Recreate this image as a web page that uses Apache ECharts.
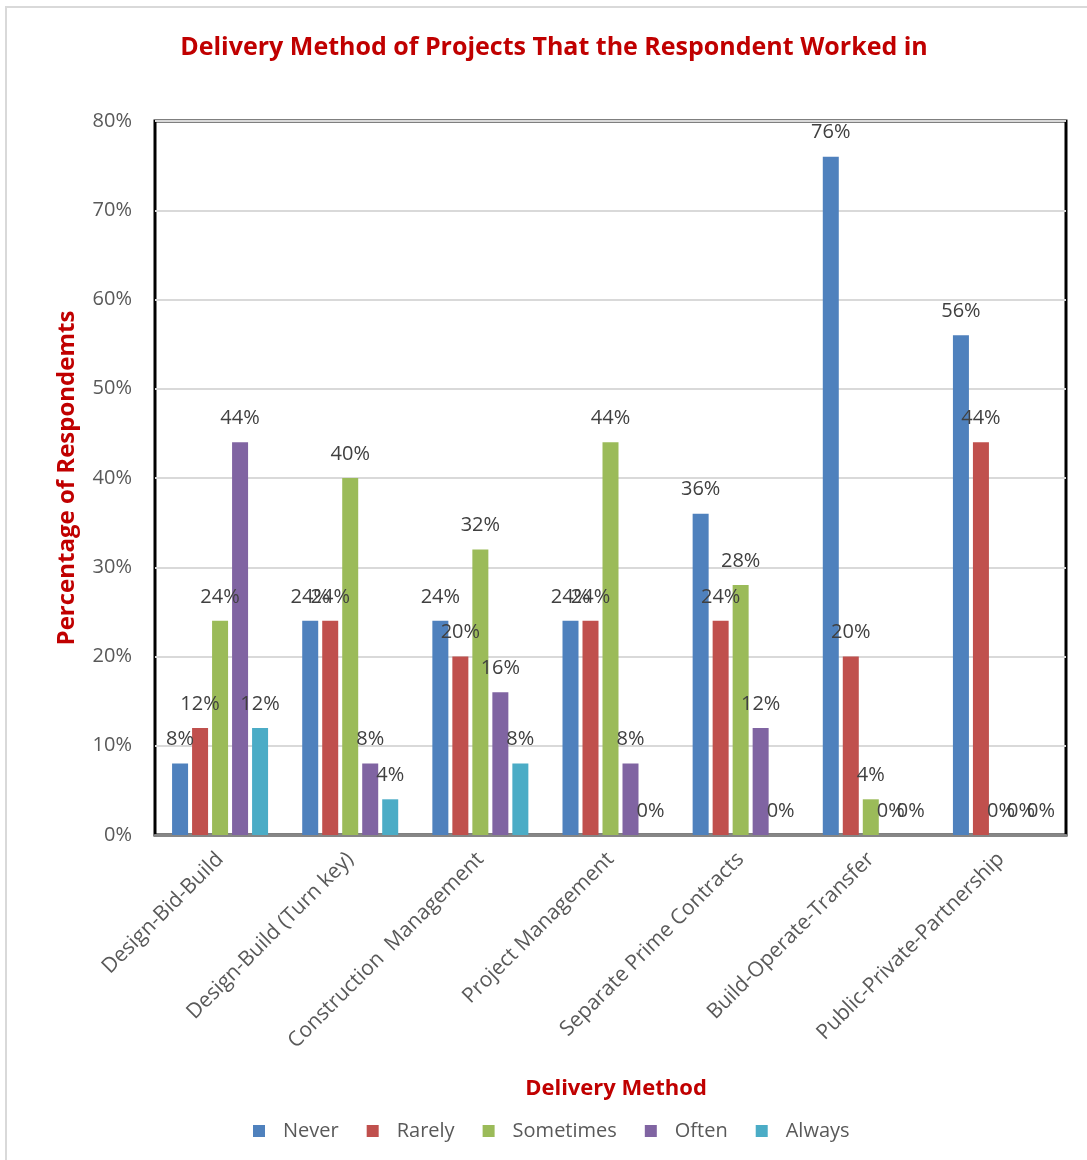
<!DOCTYPE html>
<html>
<head>
<meta charset="utf-8">
<script src="https://cdn.jsdelivr.net/npm/echarts@6/dist/echarts.min.js"></script>
<style>
  html, body { margin: 0; padding: 0; background: #fff; }
  #chart { width: 1087px; height: 1160px; }
</style>
</head>
<body>
<div id="chart"></div>
<script>
// Delivery methods (x-axis categories)
const methods = [
  'Design-Bid-Build',
  'Design-Build (Turn key)',
  'Construction  Management',
  'Project Management',
  'Separate Prime Contracts',
  'Build-Operate-Transfer',
  'Public-Private-Partnership'
];

// Share of respondents (%) per frequency answer
const never     = [8, 24, 24, 24, 36, 76, 56];
const rarely    = [12, 24, 20, 24, 24, 20, 44];
const sometimes = [24, 40, 32, 44, 28, 4, 0];
const often     = [44, 8, 16, 8, 12, 0, 0];
const always    = [12, 4, 8, 0, 0, 0, 0];

const seriesNames = ['Never', 'Rarely', 'Sometimes', 'Often', 'Always'];
const seriesData = [never, rarely, sometimes, often, always];
const palette = ['#4F81BD', '#C0504D', '#9BBB59', '#8064A2', '#4BACC6'];

// y-axis ticks: 0% .. 80% step 10
const yMin = 0, yMax = 80, yStep = 10;

const FONT = '"Open Sans", Lato, sans-serif';

const chart = echarts.init(document.getElementById('chart'));

chart.setOption({
  backgroundColor: '#fff',
  animation: false,
  color: palette,
  textStyle: { fontFamily: FONT },
  graphic: [
    {
      type: 'rect',
      shape: { x: 6, y: 7, width: 1100, height: 1200 },
      style: { fill: 'none', stroke: '#d9d9d9', lineWidth: 2 },
      silent: true,
      z: -1
    }
  ],
  title: [
    {
      text: 'Delivery Method of Projects That the Respondent Worked in',
      left: 549, top: 30, textAlign: 'center',
      textStyle: { color: '#C00000', fontSize: 25, fontWeight: 'bold', fontFamily: FONT }
    },
    {
      text: 'Delivery Method',
      left: 611, top: 1073, textAlign: 'center',
      textStyle: { color: '#C00000', fontSize: 22, fontWeight: 'bold', fontFamily: FONT }
    }
  ],
  legend: {
    data: seriesNames,
    left: 248,
    top: 1116,
    icon: 'rect',
    itemWidth: 12,
    itemHeight: 12,
    itemGap: 28,
    textStyle: { color: '#595959', fontSize: 20, padding: [0, 0, 0, 13], fontFamily: FONT }
  },
  grid: {
    left: 155, right: 21, top: 121, bottom: 325,
    show: true,
    borderColor: '#000',
    borderWidth: 3
  },
  xAxis: {
    type: 'category',
    data: methods,
    axisLine: { show: true, lineStyle: { color: '#868686', width: 3 } },
    axisTick: { show: false },
    axisLabel: {
      rotate: 45,
      interval: 0,
      margin: 21,
      color: '#595959',
      fontSize: 21,
      fontFamily: FONT
    }
  },
  yAxis: {
    type: 'value',
    min: yMin, max: yMax, interval: yStep,
    name: 'Percentage of Respondemts',
    nameLocation: 'middle',
    nameGap: 76,
    nameTextStyle: { color: '#C00000', fontSize: 24, fontWeight: 'bold', fontFamily: FONT },
    axisLine: { show: false },
    axisTick: { show: false },
    axisLabel: {
      formatter: '{value}%',
      margin: 23,
      color: '#595959',
      fontSize: 20,
      fontFamily: FONT
    },
    splitLine: { lineStyle: { color: '#d9d9d9', width: 2 } }
  },
  series: seriesNames.map((name, i) => ({
    name,
    type: 'bar',
    data: seriesData[i],
    barWidth: 16,
    barGap: '25%',
    itemStyle: { color: palette[i] },
    label: {
      show: true,
      position: 'top',
      distance: 14,
      formatter: '{c}%',
      color: '#404040',
      fontSize: 20,
      fontFamily: FONT
    }
  }))
});
</script>
</body>
</html>
